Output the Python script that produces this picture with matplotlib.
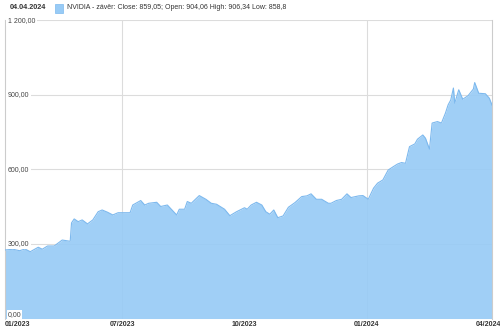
import matplotlib
matplotlib.use("Agg")
import matplotlib.pyplot as plt
import matplotlib.transforms as mtransforms
import pandas as pd

plt.rcParams['font.family'] = ['Liberation Sans', 'DejaVu Sans']

# NVIDIA close
dates = [
    "2023-04-04", "2023-04-10", "2023-04-15", "2023-04-19", "2023-04-23", "2023-04-29",
    "2023-05-02", "2023-05-06", "2023-05-11", "2023-05-17", "2023-05-23", "2023-05-24",
    "2023-05-26", "2023-05-29", "2023-06-01", "2023-06-05", "2023-06-09", "2023-06-13",
    "2023-06-16", "2023-06-20", "2023-06-24", "2023-06-28", "2023-07-01", "2023-07-07",
    "2023-07-09", "2023-07-15", "2023-07-18", "2023-07-21", "2023-07-27", "2023-07-30",
    "2023-08-04", "2023-08-11", "2023-08-13", "2023-08-17", "2023-08-19", "2023-08-22",
    "2023-08-28", "2023-09-02", "2023-09-06", "2023-09-10", "2023-09-16", "2023-09-20",
    "2023-09-25", "2023-10-01", "2023-10-03", "2023-10-06", "2023-10-10", "2023-10-14",
    "2023-10-17", "2023-10-20", "2023-10-23", "2023-10-26", "2023-10-30", "2023-11-03",
    "2023-11-08", "2023-11-13", "2023-11-17", "2023-11-20", "2023-11-24", "2023-11-28",
    "2023-12-03", "2023-12-05", "2023-12-09", "2023-12-13", "2023-12-17", "2023-12-20",
    "2023-12-26", "2023-12-29", "2024-01-01", "2024-01-02", "2024-01-06", "2024-01-09",
    "2024-01-13", "2024-01-17", "2024-01-21", "2024-01-24", "2024-01-27", "2024-01-30",
    "2024-02-02", "2024-02-06", "2024-02-08", "2024-02-12", "2024-02-14", "2024-02-17",
    "2024-02-19", "2024-02-23", "2024-02-26", "2024-02-29", "2024-03-02", "2024-03-04",
    "2024-03-06", "2024-03-07", "2024-03-10", "2024-03-13", "2024-03-17", "2024-03-21",
    "2024-03-22", "2024-03-25", "2024-03-30", "2024-04-02", "2024-04-04",
]
close = [
    276, 279, 273, 280, 269, 287,
    279, 292, 292, 316, 311, 385,
    401, 390, 397, 381, 397, 430,
    437, 428, 417, 426, 426, 426,
    457, 475, 457, 464, 468, 451,
    457, 417, 440, 440, 471, 464,
    495, 480, 464, 460, 440, 414,
    430, 446, 440, 457, 468, 457,
    430, 420, 437, 406, 413, 448,
    467, 491, 494, 502, 480, 480,
    464, 464, 475, 480, 502, 487,
    494, 495, 484, 480, 525, 545,
    558, 598, 612, 622, 628, 625,
    692, 703, 722, 739, 726, 682,
    787, 793, 787, 827, 860, 880,
    928, 867, 921, 883, 897, 924,
    950, 907, 905, 887, 859,
]

y_ticks = [0, 300, 600, 900, 1200]
x_ticks = ["2023-07-01", "2023-10-01", "2024-01-01", "2024-04-01"]
x_tick_labels = ["07/2023", "10/2023", "01/2024", "04/2024"]
x_grid = ["2023-07-01", "2024-01-01"]

header_date = "04.04.2024"
legend_text = "NVIDIA - závěr: Close: 859,05; Open: 904,06 High: 906,34 Low: 858,8"

x = pd.to_datetime(dates)

fig = plt.figure(figsize=(5, 3.33), dpi=100)
ax = fig.add_axes([0.01, 0.0435, 0.974, 0.895])

grid_col = "#dcdcdc"
fill_col = "#98cbf6"
line_col = "#7db9ee"

for t in y_ticks[1:]:
    ax.axhline(t, color=grid_col, lw=0.8, zorder=1)
for g in x_grid:
    ax.axvline(pd.Timestamp(g), color=grid_col, lw=0.8, zorder=1)

ax.fill_between(x, close, 0, color=fill_col, alpha=0.92, lw=0, zorder=2)
ax.plot(x, close, color=line_col, lw=0.8, zorder=3)

ax.set_xlim(x[0], x[-1])
ax.set_ylim(0, 1200)

for side in ["top", "bottom"]:
    ax.spines[side].set_visible(False)
for side in ["left", "right"]:
    ax.spines[side].set_color("#cccccc")
    ax.spines[side].set_linewidth(0.8)

ax.set_yticks([])
trans = mtransforms.blended_transform_factory(ax.transAxes, ax.transData)
for t in y_ticks:
    lbl = f"{t:,.2f}".replace(",", " ").replace(".", ",")
    if t == 0:
        ax.text(0.006, 3, lbl, transform=trans, ha="left", va="bottom", fontsize=5,
                color="#444444", zorder=5,
                bbox=dict(facecolor="white", edgecolor="none", pad=0.6))
    else:
        ax.text(0.006, t, lbl, transform=trans, ha="left", va="center", fontsize=5,
                color="#444444", zorder=5,
                bbox=dict(facecolor="white", edgecolor="none", pad=1.2))

ax.set_xticks(pd.to_datetime(x_ticks))
ax.set_xticklabels(x_tick_labels, fontsize=5, color="#333333", fontweight="bold")
ax.tick_params(axis="x", length=0, pad=2)
ax.text(0.0, -0.008, "01/2023", transform=ax.transAxes, ha="left", va="top",
        fontsize=5, color="#333333", fontweight="bold")

fig.text(0.02, 0.976, header_date, ha="left", va="center", fontsize=5.2,
         fontweight="bold", color="#333333")
fig.patches.append(plt.Rectangle((0.11, 0.962), 0.016, 0.026, transform=fig.transFigure,
                                 facecolor=fill_col, edgecolor="#7db9ee", lw=0.5))
fig.text(0.134, 0.976, legend_text, ha="left", va="center", fontsize=5.0, color="#333333")

fig.savefig("out.png", dpi=100)
